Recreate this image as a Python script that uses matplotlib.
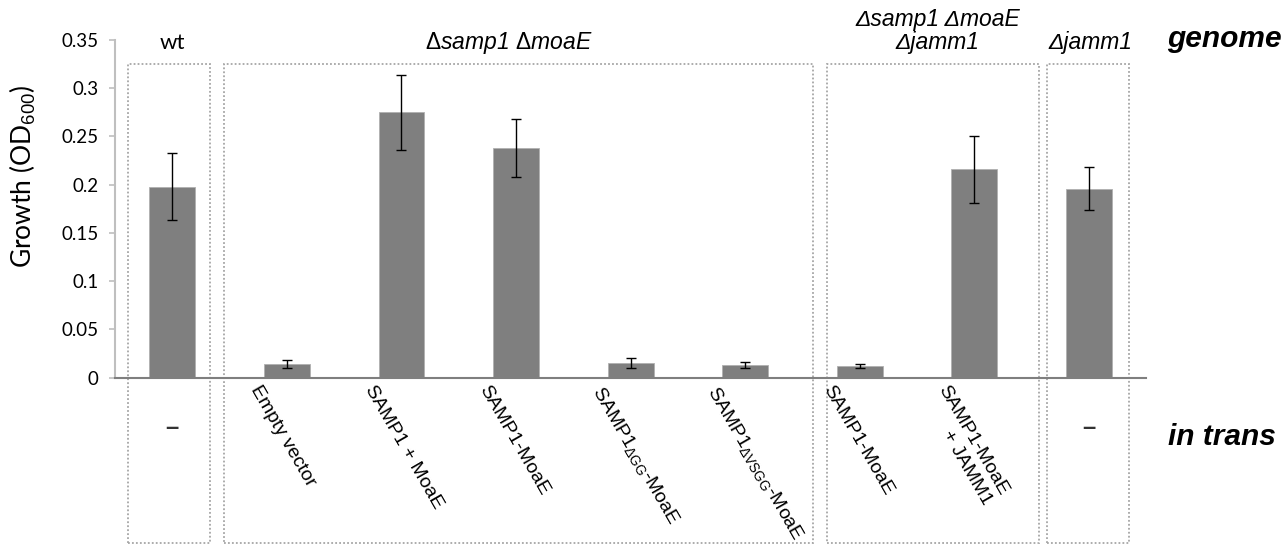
# 1. imports
import matplotlib
matplotlib.use('Agg')
import matplotlib.pyplot as plt
from matplotlib.patches import Rectangle

# 2. data
strains = ['wt', r'$\Delta$samp1 $\Delta$moaE', 'Δsamp1 ΔmoaE\nΔjamm1', 'Δjamm1']
in_trans = ['', 'Empty vector', 'SAMP1 + MoaE', 'SAMP1-MoaE',
            r'SAMP1$_{\mathrm{\Delta GG}}$-MoaE', r'SAMP1$_{\mathrm{\Delta VSGG}}$-MoaE',
            'SAMP1-MoaE', 'SAMP1-MoaE\n+ JAMM1', '']
growth = [0.198, 0.014, 0.275, 0.238, 0.015, 0.013, 0.012, 0.216, 0.196]
growth_err = [0.035, 0.004, 0.039, 0.030, 0.005, 0.003, 0.002, 0.035, 0.022]
y_ticks = [0, 0.05, 0.1, 0.15, 0.2, 0.25, 0.3, 0.35]
y_tick_labels = ['0', '0.05', '0.1', '0.15', '0.2', '0.25', '0.3', '0.35']

# group boxes (x from / x to in category units) and where the genome label sits
box_x = [(-0.39, 0.33), (0.45, 5.59), (5.71, 7.56), (7.63, 8.35)]
strain_x = [0, 2.94, 6.68, 8.01]

plt.rcParams['mathtext.fontset'] = 'custom'
plt.rcParams['mathtext.rm'] = 'Liberation Sans'
plt.rcParams['mathtext.it'] = 'Liberation Sans:italic'
plt.rcParams['mathtext.bf'] = 'Liberation Sans:bold'

# 3. figure and axes
fig = plt.figure(figsize=(12.87, 5.44), dpi=100)
ax = fig.add_axes([115 / 1287, 166.3 / 544, 1031.3 / 1287, 337.7 / 544])

x = list(range(len(growth)))
ax.bar(x, growth, width=0.4, color='#7f7f7f', edgecolor='#b0b0b0', linewidth=0.6, zorder=2)
ax.errorbar(x, growth, yerr=growth_err, fmt='none', ecolor='black', elinewidth=1,
            capsize=3.7, capthick=1, zorder=3)

ax.set_xlim(-0.5, 8.5)
ax.set_ylim(0, 0.35)
ax.set_xticks([])
ax.set_yticks(y_ticks)
ax.set_yticklabels(y_tick_labels, family='Lato', fontsize=13.5)
ax.tick_params(axis='y', direction='out', length=4, width=1.2, color='#bfbfbf', pad=8)

for side in ['top', 'right']:
    ax.spines[side].set_visible(False)
ax.spines['left'].set_color('#bfbfbf')
ax.spines['left'].set_linewidth(1.5)
ax.spines['bottom'].set_color('#7f7f7f')
ax.spines['bottom'].set_linewidth(1.5)

# 4. y label
fig.text(23 / 1287, 1 - 176 / 544, r'Growth (OD$_{600}$)', rotation=90, ha='center',
         va='center', family='Lato', fontsize=19)

# 5. rotated "in trans" labels under the bars
for i, lab in enumerate(in_trans):
    if lab == '':
        continue
    ax.text(i - 0.22, -0.005, lab, rotation=-60, rotation_mode='anchor', ha='left',
            va='top', multialignment='right', family='Liberation Sans', fontsize=14,
            linespacing=1.15)

# dash for the strains without plasmid
for i in [0, 8]:
    ax.text(i, -0.052, '–', ha='center', va='center', family='Liberation Sans',
            fontsize=17, weight='bold', color='#333333')

# 6. dotted boxes
for x0, x1 in box_x:
    ax.add_patch(Rectangle((x0, -0.1713), x1 - x0, 0.4967, fill=False, edgecolor='#a6a6a6',
                           linewidth=1.3, linestyle=(0, (1, 1.2)), clip_on=False, zorder=1))

# 7. genome labels
for i, (sx, name) in enumerate(zip(strain_x, strains)):
    if i == 0:
        ax.text(sx, 0.3405, name, ha='center', va='baseline', family='Lato', fontsize=16)
    else:
        ax.text(sx, 0.3405, name, ha='center', va='baseline', family='Liberation Sans',
                style='italic', fontsize=16.5, linespacing=1.0)

ax.text(9.18, 0.3425, 'genome', ha='center', va='baseline', family='Liberation Sans',
        style='italic', weight='bold', fontsize=21.5)
ax.text(9.16, -0.0697, 'in trans', ha='center', va='baseline', family='Liberation Sans',
        style='italic', weight='bold', fontsize=21.5)

fig.savefig('out.png', dpi=100)
